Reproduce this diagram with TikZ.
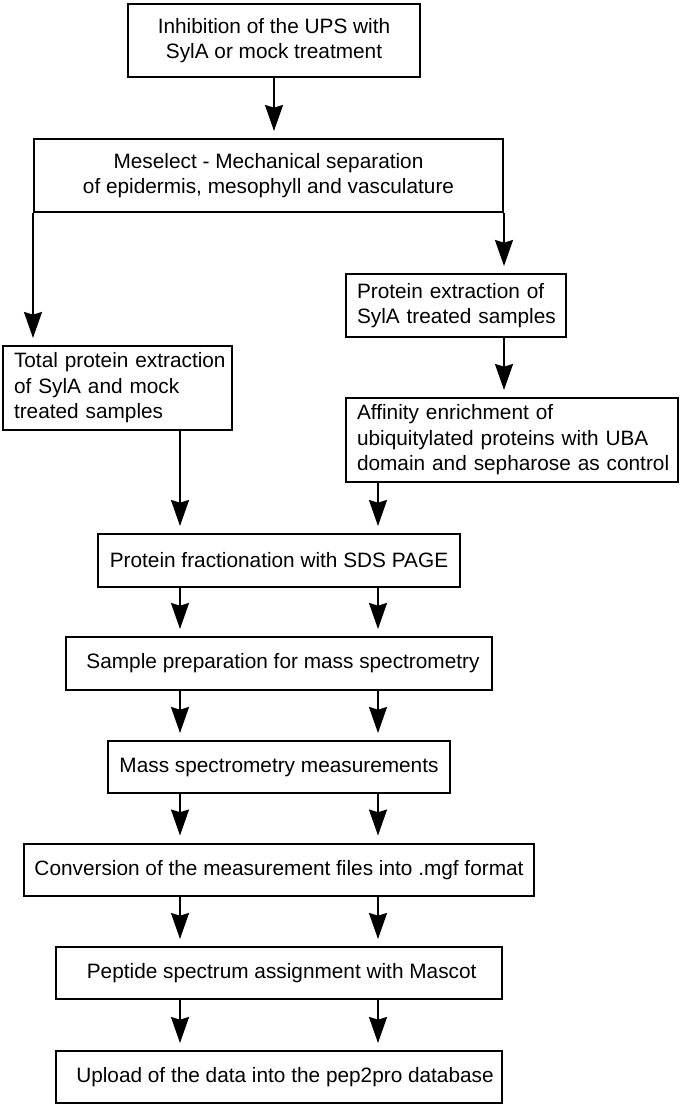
\documentclass[tikz,border=0pt]{standalone}
\usepackage{fontspec}
\setmainfont{Liberation Sans}
\usetikzlibrary{arrows.meta}
\begin{document}
\begin{tikzpicture}[x=0.75pt,y=-0.75pt,
  box/.style={draw, line width=1.5pt, inner sep=0pt, align=center,
    font=\fontsize{15.6pt}{19.1pt}\selectfont},
  lbox/.style={box, align=left, inner xsep=8.25pt},
  thickbox/.style={box, line width=2.2pt},
  flow/.style={line width=1.4pt, -{Stealth[length=19.5pt,width=13.5pt,inset=2pt]}, shorten >=5.25pt}]
\useasboundingbox (0,0) rectangle (680,1109);

\node[box, minimum width=219pt, minimum height=54.75pt] (b1) at (274,40.5)
  {Inhibition of the UPS with\\SylA or mock treatment};
\node[box, minimum width=351.75pt, minimum height=54.75pt] (b2) at (268.5,175.5)
  {Meselect - Mechanical separation\\of epidermis, mesophyll and vasculature};
\node[lbox, text width=148.5pt, minimum height=47.25pt] (b3) at (456,305.5)
  {\mbox{Protein extraction of}\\\mbox{SylA treated samples}};
\node[lbox, text width=155.25pt, minimum height=63pt] (b4) at (117.5,388)
  {\mbox{Total protein extraction}\\\mbox{of SylA and mock}\\\mbox{treated samples}};
\node[lbox, text width=232.5pt, minimum height=63pt] (b5) at (512,440)
  {\mbox{Affinity enrichment of}\\\mbox{ubiquitylated proteins with UBA}\\\mbox{domain and sepharose as control}};
\node[box, minimum width=271.5pt, minimum height=39.75pt] (b6) at (279,560.5)
  {Protein fractionation with SDS PAGE};
\node[box, minimum width=319.5pt, minimum height=39.75pt] (b7) at (279,663.5)
  {\hspace*{6pt}Sample preparation for mass spectrometry};
\node[box, minimum width=256.5pt, minimum height=39pt] (b8) at (279,767)
  {Mass spectrometry measurements};
\node[thickbox, minimum width=382.5pt, minimum height=39pt] (b9) at (279,870)
  {Conversion of the measurement files into .mgf format};
\node[box, minimum width=334.5pt, minimum height=39pt] (b10) at (279,973)
  {\hspace*{4pt}Peptide spectrum assignment with Mascot};
\node[box, minimum width=334.5pt, minimum height=39pt] (b11) at (279,1077)
  {\hspace*{9pt}Upload of the data into the pep2pro database};

\coordinate (lx) at (180,0);
\coordinate (rx) at (378,0);

\draw[flow] (b1.south) -- (b1.south |- b2.north);
\draw[flow] (b2.south west) -- (b2.south west |- b4.north);
\draw[flow] (b2.south east) -- (b2.south east |- b3.north);
\draw[flow] (b2.south east |- b3.south) -- (b2.south east |- b5.north);
\draw[flow] (b4.south -| lx) -- (b6.north -| lx);
\draw[flow] (b5.south -| rx) -- (b6.north -| rx);
\foreach \a/\b in {b6/b7, b7/b8, b8/b9, b9/b10, b10/b11}{
  \draw[flow] (\a.south -| lx) -- (\b.north -| lx);
  \draw[flow] (\a.south -| rx) -- (\b.north -| rx);
}
\end{tikzpicture}
\end{document}
